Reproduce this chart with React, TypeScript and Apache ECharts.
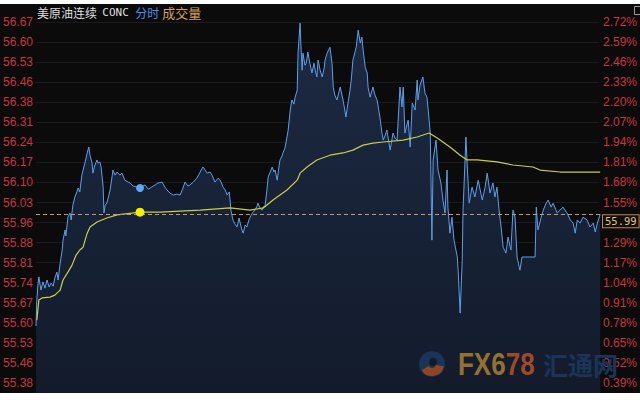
import React, { useEffect, useRef } from "react";
import * as echarts from "echarts";

const TITLE_NAME = "美原油连续";
const TITLE_CODE = "CONC";
const TITLE_TAB1 = "分时";
const TITLE_TAB2 = "成交量";
const WATERMARK_LATIN_A = "FX6";
const WATERMARK_LATIN_B = "78";
const WATERMARK_CJK = "汇通网";

// tick labels, bottom to top
const PRICE_LABELS = ["55.38", "55.46", "55.53", "55.60", "55.67", "55.74", "55.81", "55.88", "55.96", "56.03", "56.10", "56.17", "56.24", "56.31", "56.38", "56.46", "56.53", "56.60", "56.67"];
const PERCENT_LABELS = ["0.39%", "0.52%", "0.65%", "0.78%", "0.91%", "1.04%", "1.17%", "1.29%", "1.42%", "1.55%", "1.68%", "1.81%", "1.94%", "2.07%", "2.20%", "2.33%", "2.46%", "2.59%", "2.72%"];
const TAG_LABEL_INDEX = 8; // the percent label covered by the last-price tag

const LAST_PRICE = 55.99;
const PRICE_MAX = 56.676;
const PRICE_FLOOR = 55.353;
const SESSION_MINUTES = 1380;
const CURSOR_MINUTE = 254;

const PRICE_MINUTES = [
  0, 2, 5, 7, 12, 17, 22, 27, 32, 37,
  42, 46, 51, 54, 59, 64, 66, 71, 73, 78,
  83, 86, 90, 95, 100, 103, 107, 112, 115, 120,
  125, 129, 132, 137, 139, 144, 149, 151, 156, 159,
  164, 166, 169, 173, 178, 181, 186, 188, 193, 198,
  205, 210, 217, 225, 230, 237, 247, 254, 261, 266,
  274, 279, 286, 291, 298, 308, 315, 320, 327, 335,
  344, 352, 359, 364, 371, 376, 384, 393, 401, 408,
  413, 418, 425, 430, 437, 445, 450, 457, 462, 467,
  472, 474, 476, 481, 486, 491, 496, 498, 503, 506,
  511, 515, 520, 523, 530, 535, 540, 542, 547, 552,
  557, 559, 564, 567, 572, 577, 581, 584, 589, 594,
  596, 601, 603, 608, 613, 616, 621, 625, 630, 633,
  638, 640, 645, 647, 650, 652, 657, 660, 664, 669,
  674, 679, 682, 686, 689, 694, 699, 704, 706, 711,
  718, 723, 726, 730, 735, 743, 750, 757, 762, 767,
  770, 774, 782, 787, 792, 796, 799, 804, 809, 811,
  816, 823, 828, 833, 840, 845, 848, 853, 857, 865,
  872, 877, 882, 889, 894, 897, 901, 909, 914, 919,
  926, 931, 933, 938, 945, 950, 955, 958, 963, 967,
  970, 977, 982, 989, 994, 999, 1004, 1006, 1011, 1016,
  1021, 1029, 1031, 1036, 1041, 1043, 1048, 1050, 1053, 1058,
  1065, 1072, 1080, 1090, 1097, 1102, 1109, 1116, 1121, 1126,
  1131, 1136, 1141, 1148, 1153, 1160, 1165, 1170, 1175, 1178,
  1182, 1187, 1219, 1222, 1226, 1234, 1239, 1246, 1251, 1258,
  1263, 1273, 1280, 1287, 1297, 1305, 1312, 1317, 1322, 1329,
  1336, 1346, 1353, 1361, 1366, 1371, 1378,
];

const PRICES = [
  55.592, 55.685, 55.745, 55.767, 55.72, 55.749, 55.727, 55.756, 55.731, 55.745,
  55.734, 55.763, 55.784, 55.756, 55.816, 55.863, 55.898, 55.934, 55.913, 55.98,
  55.995, 55.97, 56.023, 56.052, 56.07, 56.084, 56.07, 56.13, 56.148, 56.177,
  56.209, 56.23, 56.201, 56.173, 56.137, 56.166, 56.184, 56.173, 56.177, 56.159,
  56.087, 55.995, 56.023, 56.03, 56.059, 56.077, 56.127, 56.148, 56.13, 56.141,
  56.13, 56.137, 56.112, 56.105, 56.102, 56.091, 56.087, 56.084, 56.091, 56.095,
  56.08, 56.084, 56.091, 56.095, 56.102, 56.105, 56.087, 56.077, 56.066, 56.059,
  56.062, 56.059, 56.084, 56.105, 56.091, 56.095, 56.105, 56.119, 56.141, 56.159,
  56.148, 56.137, 56.141, 56.13, 56.105, 56.119, 56.112, 56.087, 56.077, 56.059,
  56.07, 56.041, 56.005, 55.97, 55.955, 55.945, 55.977, 55.963, 55.934, 55.923,
  55.952, 55.945, 55.97, 55.98, 55.998, 56.005, 56.02, 56.03, 56.013, 56.005,
  56.02, 56.016, 56.077, 56.123, 56.141, 56.159, 56.141, 56.148, 56.112, 56.166,
  56.184, 56.198, 56.209, 56.226, 56.266, 56.291, 56.362, 56.398, 56.383, 56.408,
  56.433, 56.565, 56.672, 56.594, 56.504, 56.565, 56.522, 56.529, 56.569, 56.529,
  56.494, 56.529, 56.504, 56.48, 56.54, 56.504, 56.48, 56.512, 56.54, 56.565,
  56.586, 56.529, 56.444, 56.415, 56.398, 56.444, 56.398, 56.337, 56.387, 56.433,
  56.469, 56.54, 56.586, 56.647, 56.601, 56.622, 56.576, 56.515, 56.494, 56.444,
  56.408, 56.444, 56.415, 56.398, 56.337, 56.28, 56.255, 56.273, 56.291, 56.219,
  56.28, 56.262, 56.255, 56.444, 56.373, 56.444, 56.28, 56.326, 56.23, 56.387,
  56.362, 56.469, 56.398, 56.451, 56.48, 56.422, 56.408, 56.362, 56.28, 55.898,
  56.184, 56.255, 56.148, 56.102, 56.041, 55.995, 56.148, 56.016, 55.923, 55.98,
  55.898, 55.838, 55.791, 55.638, 55.827, 56.005, 56.184, 56.266, 56.173, 56.03,
  56.087, 56.052, 56.112, 56.041, 56.087, 56.137, 56.066, 56.102, 56.052, 56.087,
  56.005, 55.945, 55.873, 55.852, 55.909, 55.863, 56.005, 55.98, 55.838, 55.816,
  55.791, 55.838, 55.838, 56.016, 55.934, 55.98, 56.005, 56.03, 56.041, 56.016,
  56.03, 55.995, 56.005, 56.016, 55.995, 55.97, 55.959, 55.923, 55.97, 55.959,
  55.98, 55.97, 55.945, 55.959, 55.927, 55.959, 55.99,
];

const AVG_MINUTES = [
  2, 7, 15, 34, 46, 59, 66, 78, 88, 98,
  107, 115, 125, 132, 149, 173, 198, 254, 303, 401,
  474, 523, 555, 579, 613, 638, 645, 662, 686, 718,
  750, 774, 799, 823, 848, 897, 931, 960, 980, 1011,
  1036, 1053, 1077, 1126, 1165, 1214, 1231, 1280, 1378,
];
const AVG_PRICES = [
  55.613, 55.685, 55.692, 55.695, 55.702, 55.72, 55.756, 55.784, 55.809, 55.845,
  55.863, 55.873, 55.923, 55.945, 55.963, 55.977, 55.988, 55.998, 55.998, 56.005,
  56.013, 56.005, 56.013, 56.041, 56.077, 56.112, 56.137, 56.159, 56.184, 56.201,
  56.209, 56.219, 56.237, 56.244, 56.248, 56.255, 56.266, 56.28, 56.262, 56.23,
  56.201, 56.184, 56.184, 56.177, 56.166, 56.159, 56.148, 56.141, 56.141,
];

const labelAt = (labels: string[], v: number, skip?: number) => {
  const i = Math.round(v);
  if (Math.abs(v - i) > 1e-6 || i < 0 || i >= labels.length || i === skip) return "";
  return labels[i];
};

export default function App() {
  const ref = useRef<HTMLDivElement>(null);

  useEffect(() => {
    if (!ref.current) return;
    const chart = echarts.init(ref.current, undefined, { renderer: "svg" });

    const priceData = PRICE_MINUTES.map((m, i) => [m, PRICES[i]]);
    const avgData = AVG_MINUTES.map((m, i) => [m, AVG_PRICES[i]]);
    const cursorPrice = PRICES[PRICE_MINUTES.indexOf(CURSOR_MINUTE)];
    const cursorAvg = AVG_PRICES[AVG_MINUTES.indexOf(CURSOR_MINUTE)];

    const labelAxisBase = {
      type: "value" as const,
      gridIndex: 1,
      min: 0,
      max: PRICE_LABELS.length - 1,
      interval: 1,
      axisLine: { show: false, onZero: false },
      axisTick: { show: false },
    };

    chart.setOption({
      animation: false,
      backgroundColor: "#0b0b0c",
      grid: [
        { left: 36, right: 39, top: 18, bottom: 0 },
        { left: 36, right: 39, top: 18, bottom: 10 },
      ],
      xAxis: [
        { type: "value", gridIndex: 0, min: 0, max: SESSION_MINUTES, show: false },
        { type: "value", gridIndex: 1, min: 0, max: SESSION_MINUTES, show: false },
      ],
      yAxis: [
        {
          type: "value",
          gridIndex: 0,
          min: PRICE_FLOOR,
          max: PRICE_MAX,
          show: false,
          position: "left",
          axisLine: { onZero: false },
        },
        {
          ...labelAxisBase,
          position: "left",
          axisLabel: {
            formatter: (v: number) => labelAt(PRICE_LABELS, v),
            color: "#c9343d",
            fontSize: 12,
            fontFamily: "Liberation Sans, Arial, sans-serif",
            margin: 3,
          },
          splitLine: { show: true, lineStyle: { color: "rgba(85,95,120,0.2)", width: 1 } },
        },
        {
          ...labelAxisBase,
          position: "right",
          axisLabel: {
            formatter: (v: number) => labelAt(PERCENT_LABELS, v, TAG_LABEL_INDEX),
            color: "#c9343d",
            fontSize: 12,
            fontFamily: "Liberation Sans, Arial, sans-serif",
            margin: 4,
          },
          splitLine: { show: false },
        },
      ],
      series: [
        {
          type: "line",
          name: "price",
          xAxisIndex: 0,
          yAxisIndex: 0,
          data: priceData,
          showSymbol: false,
          symbol: "none",
          lineStyle: { color: "#5c9fea", width: 1 },
          areaStyle: {
            origin: "start",
            opacity: 1,
            color: new echarts.graphic.LinearGradient(0, 0, 0, 1, [
              { offset: 0, color: "#1c2a43" },
              { offset: 1, color: "#131b2b" },
            ]),
          },
          markLine: {
            silent: true,
            symbol: ["none", "none"],
            lineStyle: { color: "#c99a5a", type: [4, 3], width: 1 },
            label: {
              show: true,
              position: "end",
              distance: 2,
              offset: [0, 7],
              formatter: () => LAST_PRICE.toFixed(2),
              color: "#e3c08a",
              fontSize: 10.5,
              fontFamily: "DejaVu Sans Mono, monospace",
              backgroundColor: "#120e08",
              borderColor: "#c08848",
              borderWidth: 1,
              padding: [1, 2, 0, 2],
            },
            data: [{ yAxis: LAST_PRICE }],
          },
          markPoint: {
            silent: true,
            symbol: "circle",
            symbolSize: 8,
            itemStyle: { color: "#5ea8f6" },
            label: { show: false },
            data: [{ coord: [CURSOR_MINUTE, cursorPrice] }],
          },
          z: 2,
        },
        {
          type: "line",
          name: "avg",
          xAxisIndex: 0,
          yAxisIndex: 0,
          data: avgData,
          showSymbol: false,
          symbol: "none",
          lineStyle: { color: "#cccc48", width: 1.2 },
          markPoint: {
            silent: true,
            symbol: "circle",
            symbolSize: 9,
            itemStyle: { color: "#f4f000" },
            label: { show: false },
            data: [{ coord: [CURSOR_MINUTE, cursorAvg] }],
          },
          z: 3,
        },
      ],
      graphic: [
        {
          type: "text",
          left: 37,
          top: 2,
          z: 10,
          style: {
            text: `{a|${TITLE_NAME}} {m|${TITLE_CODE}} {b|${TITLE_TAB1}}{c|${TITLE_TAB2}}`,
            rich: {
              a: { fill: "#dedede", fontSize: 12, fontFamily: "Noto Sans CJK SC", lineHeight: 14, padding: [0, 2, 0, 0] },
              m: { fill: "#dedede", fontSize: 11, fontFamily: "DejaVu Sans Mono, monospace", lineHeight: 14, padding: [0, 3, 0, 0] },
              b: { fill: "#4d8ee0", fontSize: 12, fontFamily: "Noto Sans CJK SC", lineHeight: 14, padding: [0, 3, 0, 0] },
              c: { fill: "#d6a05a", fontSize: 13, fontFamily: "Noto Sans CJK SC", lineHeight: 14 },
            },
          },
        },
        {
          type: "rect",
          z: 10,
          shape: { x: 634.5, y: 2.5, width: 7, height: 8 },
          style: { fill: "none", stroke: "#9a9a9a", lineWidth: 1 },
        },
        {
          type: "group",
          z: 20,
          silent: true,
          children: [
            {
              type: "circle",
              z: 20,
              shape: { cx: 432, cy: 360, r: 13 },
              style: { fill: "#1a3358" },
            },
            {
              type: "sector",
              z: 21,
              shape: { cx: 432, cy: 360, r: 12, r0: 4, startAngle: 0.2, endAngle: 2.6 },
              style: { fill: "#8f4525" },
            },
            {
              type: "circle",
              z: 22,
              shape: { cx: 433, cy: 358, r: 4 },
              style: { fill: "#111a2a" },
            },
            {
              type: "text",
              z: 20,
              x: 458,
              y: 360,
              scaleY: 1.18,
              style: {
                text: `{p|${WATERMARK_LATIN_A}}{q|${WATERMARK_LATIN_B}}`,
                verticalAlign: "middle",
                rich: {
                  p: { fill: "#94712f", fontSize: 26, fontWeight: "bold", fontFamily: "Liberation Sans, Arial, sans-serif" },
                  q: { fill: "#9c4a27", fontSize: 26, fontWeight: "bold", fontFamily: "Liberation Sans, Arial, sans-serif" },
                },
              },
            },
            {
              type: "text",
              z: 20,
              x: 543,
              y: 360,
              style: {
                text: WATERMARK_CJK,
                fontSize: 25,
                fontWeight: "bold",
                fontFamily: "Noto Sans CJK SC",
                verticalAlign: "middle",
                fill: "#1b3457",
              },
            },
          ],
        },
      ],
    });

    return () => chart.dispose();
  }, []);

  return (
    <div style={{ position: "fixed", left: 0, top: 0, width: 640, height: 400, background: "#ffffff" }}>
      <div ref={ref} style={{ position: "absolute", left: 0, top: 4, width: 640, height: 389 }} />
    </div>
  );
}
